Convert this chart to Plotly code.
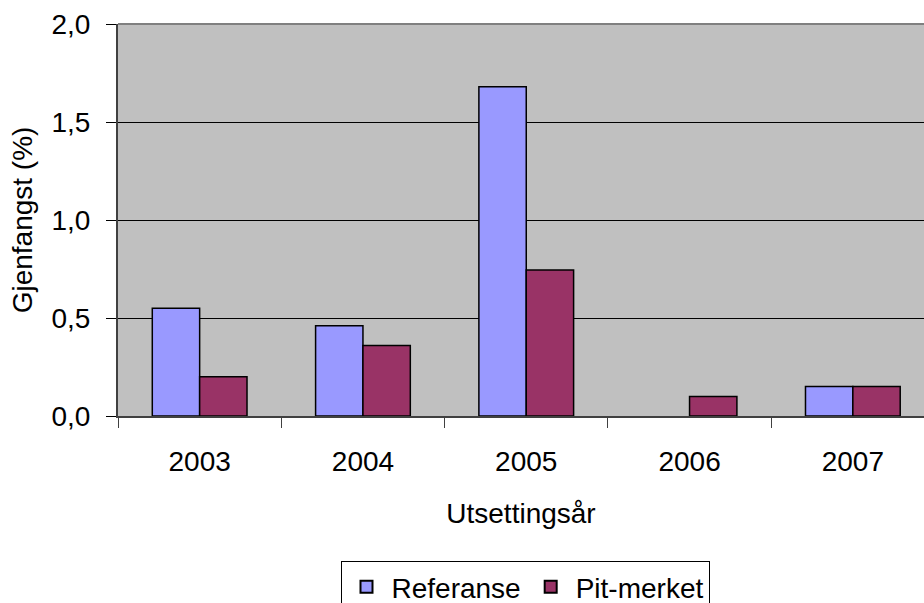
import plotly.graph_objects as go

# Release years and recapture percentages per tagging group
years = ["2003", "2004", "2005", "2006", "2007"]
referanse = [0.55, 0.46, 1.68, None, 0.15]
pit_merket = [0.20, 0.36, 0.745, 0.10, 0.15]
y_ticks = [0.0, 0.5, 1.0, 1.5, 2.0]

W, H = 924, 603
L, T, B = 118, 24, 187
plot_w = W - L
plot_h = H - T - B

FONT = "Liberation Sans, Arial, sans-serif"
FS = 28

fig = go.Figure()
fig.add_trace(go.Bar(
    x=years, y=referanse, name="Referanse",
    marker=dict(color="#9999FF", line=dict(color="black", width=1.5)),
))
fig.add_trace(go.Bar(
    x=years, y=pit_merket, name="Pit-merket",
    marker=dict(color="#993366", line=dict(color="black", width=1.5)),
))

# grey border along the top of the plot area
fig.add_shape(type="line", xref="paper", yref="paper", x0=0, x1=1, y0=1, y1=1,
              line=dict(color="#808080", width=2))

fig.update_layout(
    width=W, height=H,
    margin=dict(l=L, r=0, t=T, b=B, pad=0, autoexpand=False),
    paper_bgcolor="white",
    plot_bgcolor="#C0C0C0",
    barmode="group",
    bargap=0.42,
    bargroupgap=0,
    separators=", ",
    font=dict(family=FONT, size=FS, color="black"),
    showlegend=True,
    legend=dict(
        orientation="h",
        x=(525 - L) / plot_w, xanchor="center",
        y=(416 - 561) / plot_h, yanchor="top",
        bordercolor="black", borderwidth=1,
        bgcolor="white",
        font=dict(family=FONT, size=FS, color="black"),
        itemsizing="constant",
        itemwidth=40,
        tracegroupgap=0,
    ),
    xaxis=dict(
        type="category",
        range=[-0.5, -0.5 + plot_w / 163.3],
        showgrid=False,
        showline=True, linecolor="#404040", linewidth=2,
        ticks="outside", tickson="boundaries", ticklen=10, tickcolor="#404040", tickwidth=1,
        ticklabelstandoff=19,
        tickfont=dict(family=FONT, size=FS),
        title=dict(text="Utsettingsår", font=dict(family=FONT, size=FS), standoff=28),
        fixedrange=True,
    ),
    yaxis=dict(
        range=[0, 2.0],
        tickvals=y_ticks,
        tickformat=".1f",
        showgrid=True, gridcolor="black", gridwidth=1,
        zeroline=False,
        showline=True, linecolor="#404040", linewidth=2,
        ticks="outside", ticklen=10, tickcolor="black", tickwidth=1,
        ticklabelstandoff=10,
        tickfont=dict(family=FONT, size=FS),
        title=dict(text="Gjenfangst (%)", font=dict(family=FONT, size=FS), standoff=11),
        fixedrange=True,
    ),
)

fig.write_html("out.html", config={"displayModeBar": False})
